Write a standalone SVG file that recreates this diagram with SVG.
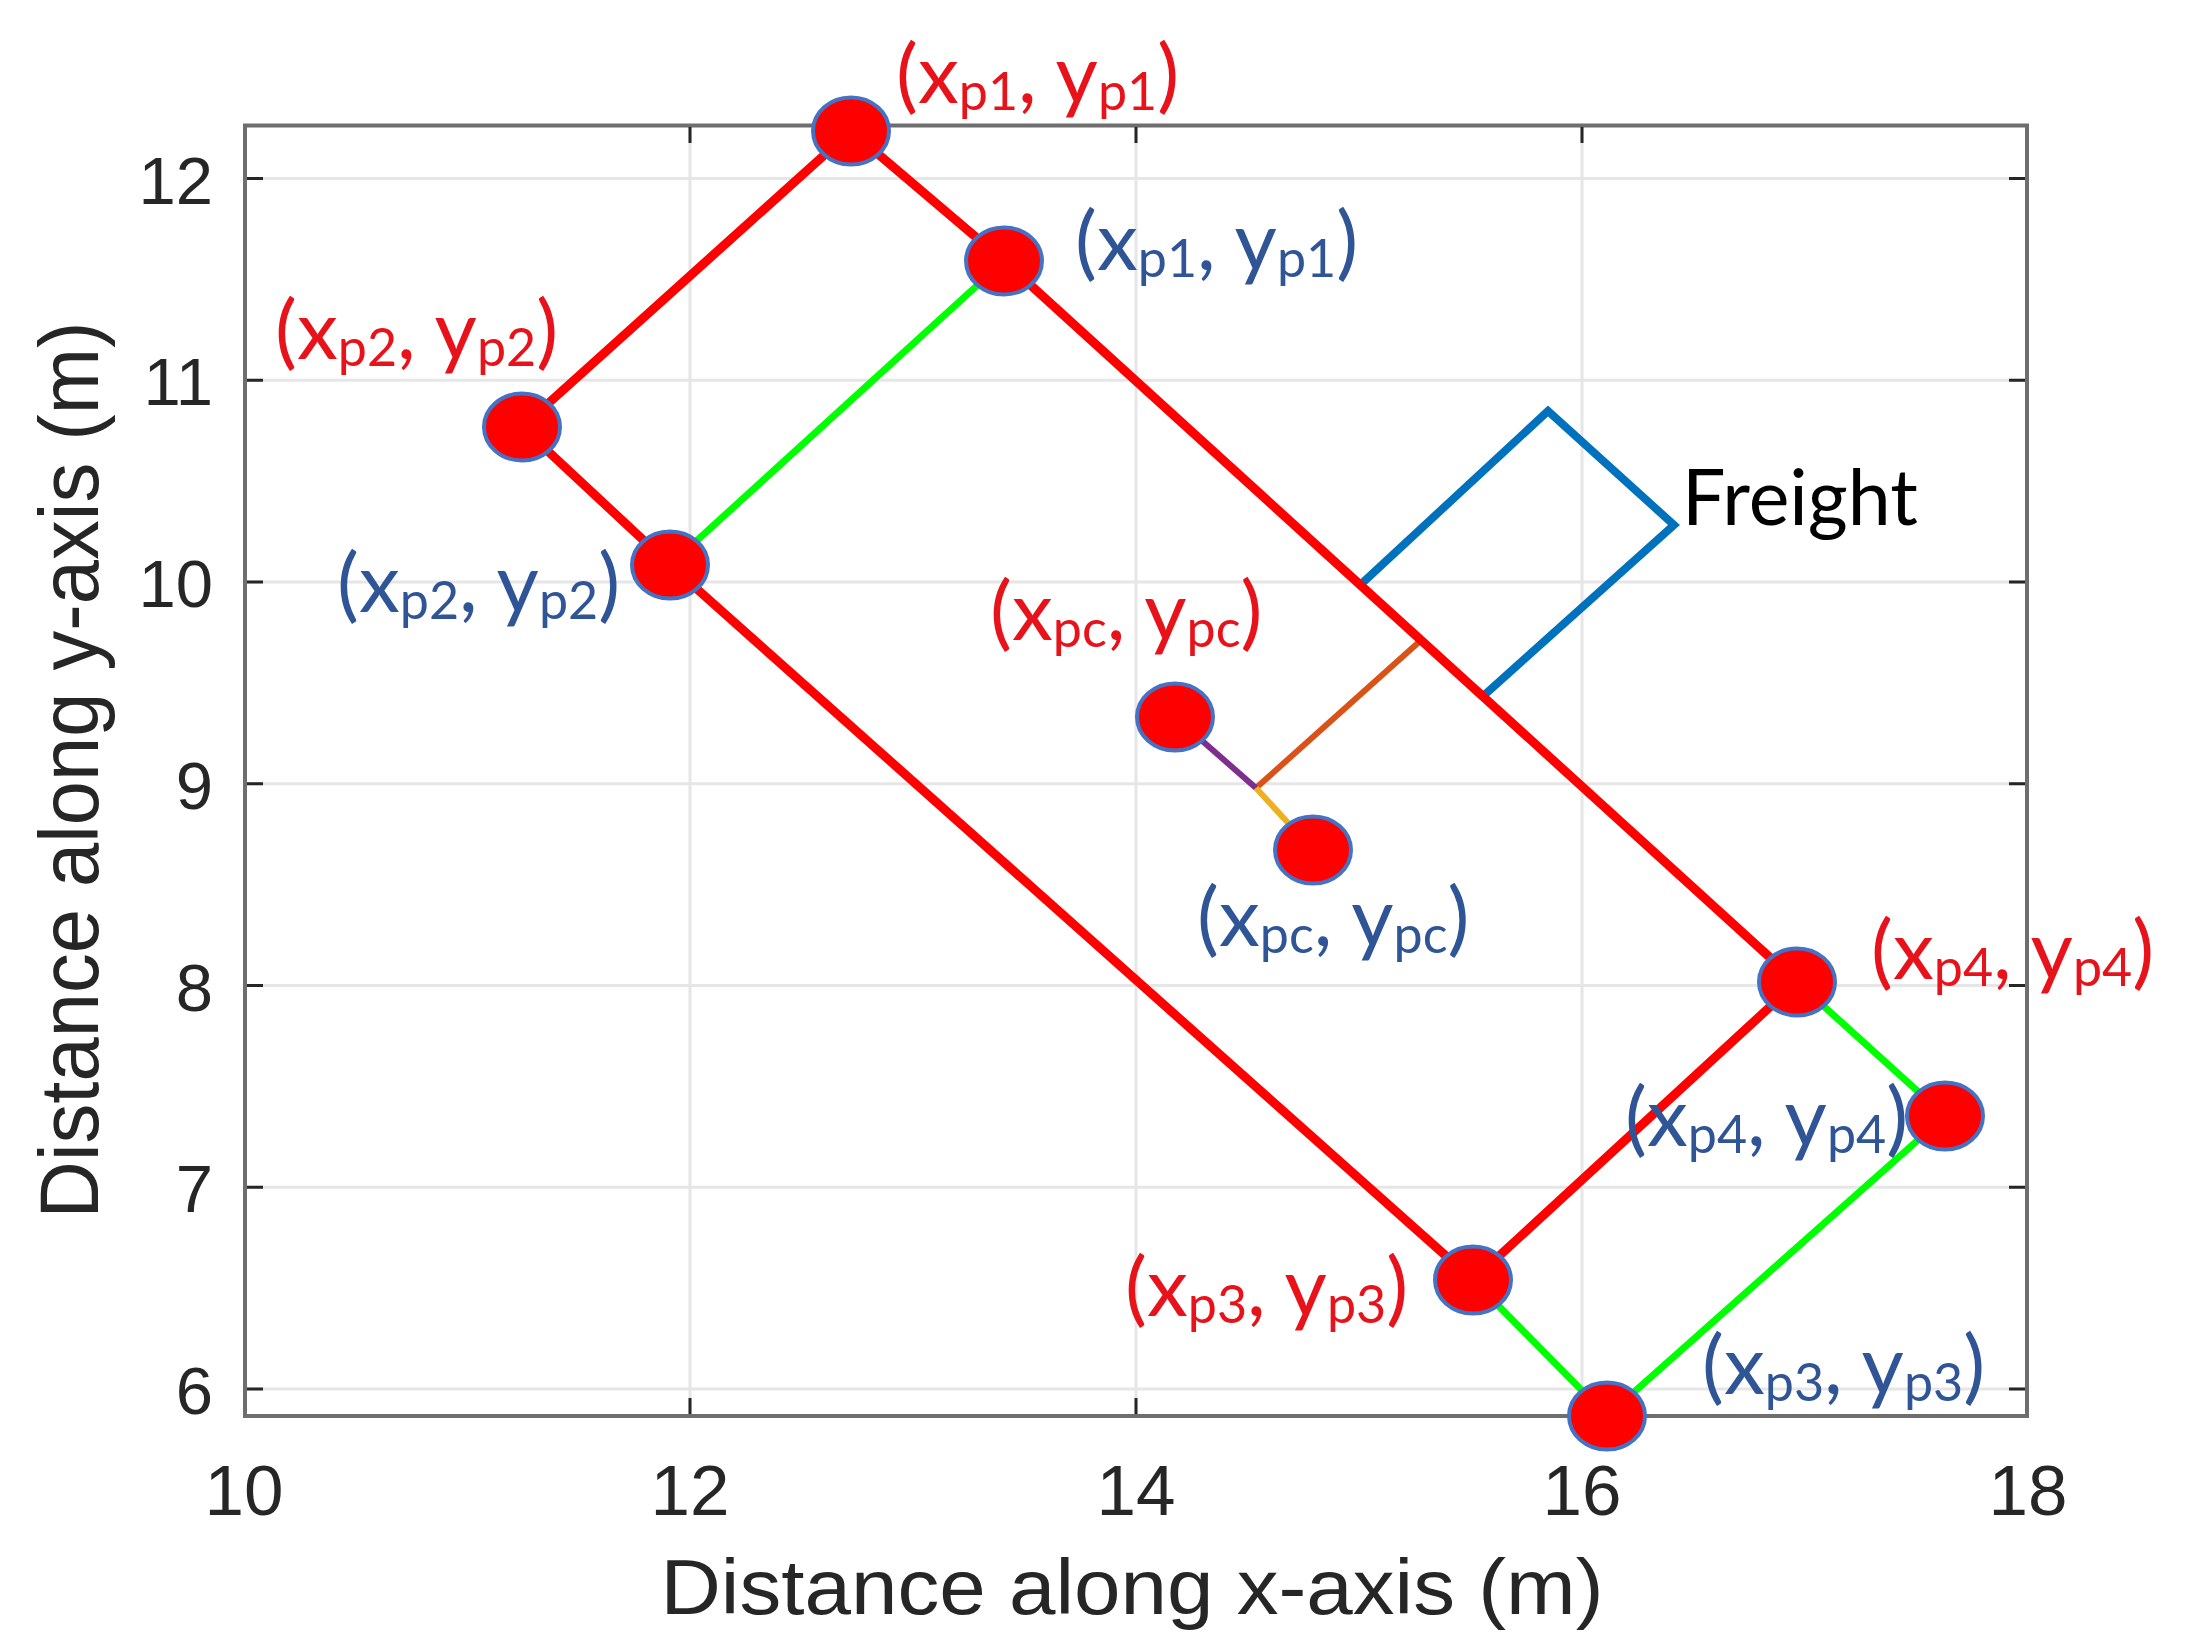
<svg xmlns="http://www.w3.org/2000/svg" width="2197" height="1650" viewBox="0 0 2197 1650">
<style>
.grid{stroke:#e6e6e6;stroke-width:3}
.tick{stroke:#262626;stroke-width:3}
.tl{font-family:"Liberation Sans",Arial,sans-serif;fill:#262626}
.lab{font-family:Lato,"Liberation Sans",sans-serif;font-size:82px}
.sub{font-size:52px}
.red{fill:#e8121b}
.blue{fill:#2f5597}
.pt{fill:#ff0000;stroke:#4472c4;stroke-width:4}
.rl{stroke:#ff0000;stroke-width:9;fill:none;stroke-linejoin:round}
.gl{stroke:#00ff00;stroke-width:7;fill:none}
</style>
<rect width="2197" height="1650" fill="#ffffff"/>
<g id="axes">
<g id="grid">
<line class="grid" x1="247" y1="178.6" x2="2025" y2="178.6"/>
<line class="grid" x1="247" y1="380.3" x2="2025" y2="380.3"/>
<line class="grid" x1="247" y1="582" x2="2025" y2="582"/>
<line class="grid" x1="247" y1="783.8" x2="2025" y2="783.8"/>
<line class="grid" x1="247" y1="985.5" x2="2025" y2="985.5"/>
<line class="grid" x1="247" y1="1187.2" x2="2025" y2="1187.2"/>
<line class="grid" x1="247" y1="1389" x2="2025" y2="1389"/>
<line class="grid" x1="690" y1="127" x2="690" y2="1414"/>
<line class="grid" x1="1136" y1="127" x2="1136" y2="1414"/>
<line class="grid" x1="1582" y1="127" x2="1582" y2="1414"/>
</g>
<rect x="245" y="125.5" width="1782" height="1290.5" fill="none" stroke="#6e6e6e" stroke-width="4"/>
<g id="ticks">
<path class="tick" d="M247 178.6h16M247 380.3h16M247 582h16M247 783.8h16M247 985.5h16M247 1187.2h16M247 1389h16"/>
<path class="tick" d="M2025 178.6h-16M2025 380.3h-16M2025 582h-16M2025 783.8h-16M2025 985.5h-16M2025 1187.2h-16M2025 1389h-16"/>
<path class="tick" d="M690 1414v-16M1136 1414v-16M1582 1414v-16M690 127v16M1136 127v16M1582 127v16"/>
</g>
<g id="ytick-labels" class="tl" font-size="67" text-anchor="end">
<text x="213" y="203.6">12</text>
<text x="213" y="405.3">11</text>
<text x="213" y="607">10</text>
<text x="213" y="808.8">9</text>
<text x="213" y="1010.5">8</text>
<text x="213" y="1212.2">7</text>
<text x="213" y="1414">6</text>
</g>
<g id="xtick-labels" class="tl" font-size="71" text-anchor="middle">
<text x="244" y="1515">10</text>
<text x="690" y="1515">12</text>
<text x="1136" y="1515">14</text>
<text x="1582" y="1515">16</text>
<text x="2028" y="1515">18</text>
</g>
<text class="tl" x="1132" y="1614" font-size="78" text-anchor="middle" textLength="943" lengthAdjust="spacingAndGlyphs">Distance along x-axis (m)</text>
<text class="tl" transform="translate(98,770) rotate(-90)" font-size="84" text-anchor="middle" textLength="897" lengthAdjust="spacingAndGlyphs">Distance along y-axis (m)</text>
</g>
<g id="connectors">
<path class="gl" d="M1004 261L670 565M1797 982L1945 1116L1607 1416L1473 1280"/>
<path d="M1358 587L1548 411L1674 525L1481 698" fill="none" stroke="#0072bd" stroke-width="8" stroke-linejoin="miter"/>
<line x1="1256" y1="788" x2="1419" y2="642" stroke="#d95319" stroke-width="6"/>
<line x1="1175" y1="717" x2="1256" y2="788" stroke="#7e2f8e" stroke-width="6"/>
<line x1="1256" y1="788" x2="1313" y2="850" stroke="#edb120" stroke-width="6"/>
<path class="rl" d="M851 131L1004 261L1797 982L1473 1280L670 565L522 427Z"/>
</g>
<g id="node-p1-red"><ellipse class="pt" cx="851" cy="131" rx="38" ry="33.5"/>
<text class="lab red" x="896" y="103"><tspan>(x</tspan><tspan class="sub" dy="7">p1</tspan><tspan dy="-7">, y</tspan><tspan class="sub" dy="7">p1</tspan><tspan dy="-7">)</tspan></text></g>
<g id="node-p1-blue"><ellipse class="pt" cx="1004" cy="261" rx="38" ry="33.5"/>
<text class="lab blue" x="1075" y="270"><tspan>(x</tspan><tspan class="sub" dy="7">p1</tspan><tspan dy="-7">, y</tspan><tspan class="sub" dy="7">p1</tspan><tspan dy="-7">)</tspan></text></g>
<g id="node-p2-red"><ellipse class="pt" cx="522" cy="427" rx="38" ry="33.5"/>
<text class="lab red" x="275" y="359"><tspan>(x</tspan><tspan class="sub" dy="7">p2</tspan><tspan dy="-7">, y</tspan><tspan class="sub" dy="7">p2</tspan><tspan dy="-7">)</tspan></text></g>
<g id="node-p2-blue"><ellipse class="pt" cx="670" cy="565" rx="38" ry="33.5"/>
<text class="lab blue" x="337" y="612"><tspan>(x</tspan><tspan class="sub" dy="7">p2</tspan><tspan dy="-7">, y</tspan><tspan class="sub" dy="7">p2</tspan><tspan dy="-7">)</tspan></text></g>
<g id="node-pc-red"><ellipse class="pt" cx="1175" cy="717" rx="38" ry="33.5"/>
<text class="lab red" x="990" y="640"><tspan>(x</tspan><tspan class="sub" dy="7">pc</tspan><tspan dy="-7">, y</tspan><tspan class="sub" dy="7">pc</tspan><tspan dy="-7">)</tspan></text></g>
<g id="node-pc-blue"><ellipse class="pt" cx="1313" cy="850" rx="38" ry="33.5"/>
<text class="lab blue" x="1197" y="946"><tspan>(x</tspan><tspan class="sub" dy="7">pc</tspan><tspan dy="-7">, y</tspan><tspan class="sub" dy="7">pc</tspan><tspan dy="-7">)</tspan></text></g>
<g id="node-p4-red"><ellipse class="pt" cx="1797" cy="982" rx="38" ry="33.5"/>
<text class="lab red" x="1871" y="979"><tspan>(x</tspan><tspan class="sub" dy="7">p4</tspan><tspan dy="-7">, y</tspan><tspan class="sub" dy="7">p4</tspan><tspan dy="-7">)</tspan></text></g>
<g id="node-p4-blue"><ellipse class="pt" cx="1945" cy="1116" rx="38" ry="33.5"/>
<text class="lab blue" x="1625" y="1146"><tspan>(x</tspan><tspan class="sub" dy="7">p4</tspan><tspan dy="-7">, y</tspan><tspan class="sub" dy="7">p4</tspan><tspan dy="-7">)</tspan></text></g>
<g id="node-p3-red"><ellipse class="pt" cx="1473" cy="1280" rx="38" ry="33.5"/>
<text class="lab red" x="1125" y="1316"><tspan>(x</tspan><tspan class="sub" dy="7">p3</tspan><tspan dy="-7">, y</tspan><tspan class="sub" dy="7">p3</tspan><tspan dy="-7">)</tspan></text></g>
<g id="node-p3-blue"><ellipse class="pt" cx="1607" cy="1416" rx="38" ry="33.5"/>
<text class="lab blue" x="1702" y="1394"><tspan>(x</tspan><tspan class="sub" dy="7">p3</tspan><tspan dy="-7">, y</tspan><tspan class="sub" dy="7">p3</tspan><tspan dy="-7">)</tspan></text></g>
<g id="node-freight"><text x="1682" y="525" font-family="Lato,'Liberation Sans',sans-serif" font-size="77" fill="#000000">Freight</text></g>
</svg>
